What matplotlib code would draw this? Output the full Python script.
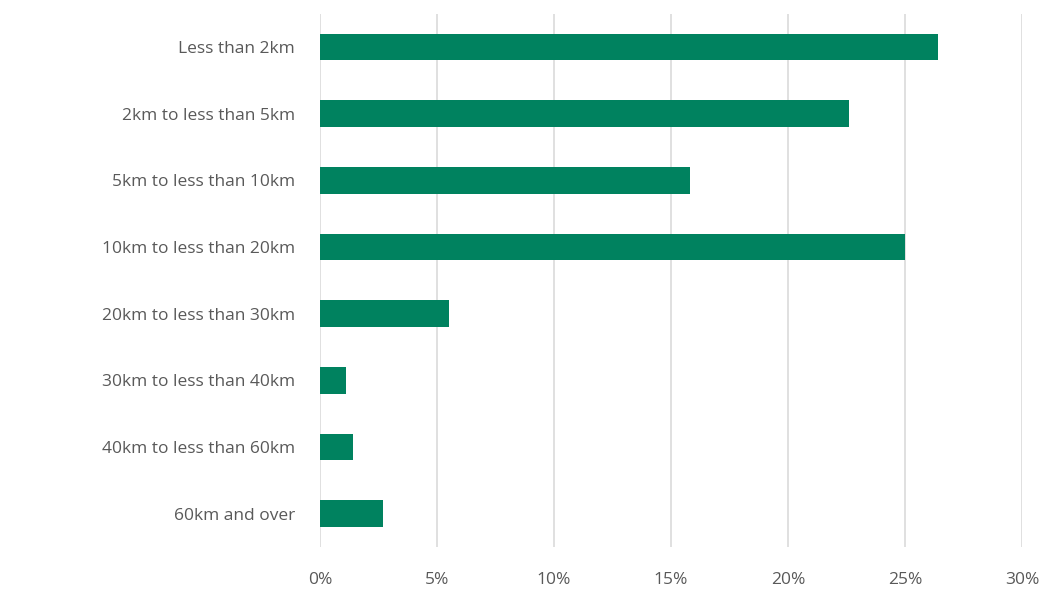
import matplotlib
matplotlib.use('Agg')
import matplotlib.pyplot as plt
from matplotlib.ticker import FuncFormatter

categories = ['Less than 2km', '2km to less than 5km', '5km to less than 10km',
              '10km to less than 20km', '20km to less than 30km',
              '30km to less than 40km', '40km to less than 60km', '60km and over']
shares = [26.4, 22.6, 15.8, 25.0, 5.5, 1.1, 1.4, 2.7]
xticks = [0, 5, 10, 15, 20, 25, 30]

plt.rcParams['font.family'] = ['Open Sans', 'DejaVu Sans']

fig = plt.figure(figsize=(10.53, 5.98), dpi=100)
ax = fig.add_axes([0.304, 0.085, 0.6666, 0.892])

ypos = range(len(categories))
ax.barh(ypos, shares, height=0.4, color='#00825f', zorder=3)
ax.set_yticks(list(ypos))
ax.set_yticklabels(categories)
ax.set_ylim(len(categories) - 0.5, -0.5)
ax.set_xlim(0, 30)
ax.set_xticks(xticks)
ax.xaxis.set_major_formatter(FuncFormatter(lambda v, p: '%d%%' % v))
ax.grid(axis='x', color='#dadada', linewidth=1.2, zorder=0)
for s in ax.spines.values():
    s.set_visible(False)
ax.tick_params(length=0, labelsize=12.5, colors='#595959')
ax.tick_params(axis='y', pad=18)
ax.tick_params(axis='x', pad=18)

fig.savefig('out.png', dpi=100)
